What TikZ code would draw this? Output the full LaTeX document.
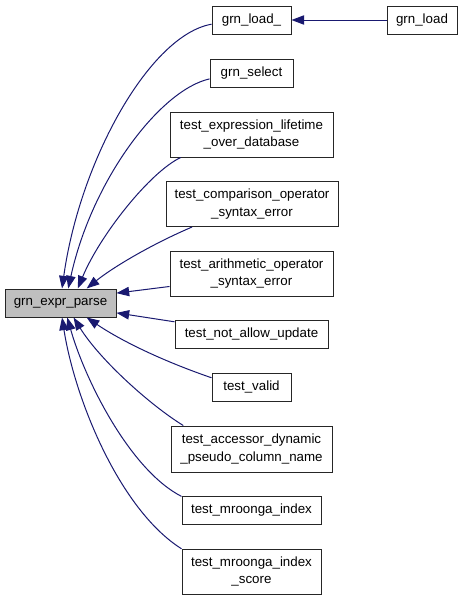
\documentclass[tikz,border=0pt]{standalone}
\usepackage{fontspec}
\setmainfont{Liberation Sans}
\usepackage{xcolor}
\usepackage{tikz}
\usetikzlibrary{calc, positioning, arrows.meta}

\definecolor{edgeblue}{RGB}{25,25,112}
\definecolor{boxgray}{RGB}{191,191,191}

\tikzset{
    fn/.style={draw=black!85, line width=0.75pt, inner sep=0pt, align=center,
        font=\fontsize{10}{13}\selectfont, minimum height=21pt},
    fntwo/.style={fn, minimum height=33.75pt},
    edge/.style={draw=edgeblue, line width=0.75pt, -{Triangle[length=9.5pt,width=7pt]}}
}

\begin{document}
\begin{tikzpicture}[x=0.75pt, y=-0.75pt]
    \useasboundingbox (0,0) rectangle (464,600);
    % Nodes
    \node [fn, fill=boxgray, minimum width=83.25pt] (parse) at (60.5,303) {grn\_expr\_parse};
    \node [fn, minimum width=59.25pt] (load_) at (251.5,20) {grn\_load\_};
    \node [fn, minimum width=52.5pt] (load) at (422,20) {grn\_load};
    \node [fn, minimum width=62.25pt] (select) at (251.5,73) {grn\_select};
    \node [fntwo, minimum width=122.25pt] (expr) at (251.5,134.5) {test\_expression\_lifetime\\\_over\_database};
    \node [fntwo, minimum width=129pt] (comp) at (252,204) {test\_comparison\_operator\\\_syntax\_error};
    \node [fntwo, minimum width=122.25pt] (arith) at (251.5,273.5) {test\_arithmetic\_operator\\\_syntax\_error};
    \node [fn, minimum width=114.75pt] (notallow) at (251.5,334) {test\_not\_allow\_update};
    \node [fn, minimum width=59.25pt] (valid) at (251.5,387) {test\_valid};
    \node [fntwo, minimum width=120.75pt, minimum height=34.5pt] (accessor) at (251.5,449) {test\_accessor\_dynamic\\\_pseudo\_column\_name};
    \node [fn, minimum width=104.25pt] (mroonga) at (251.5,510) {test\_mroonga\_index};
    \node [fntwo, minimum width=104.25pt] (score) at (251.5,571.5) {test\_mroonga\_index\\\_score};

    % Paths
    \draw[edge] (load) -- (load_);
    \draw[edge] (load_.186) .. controls (150,35) and (80,160) .. (parse.84);
    \draw[edge] (select.188) .. controls (160,90) and (92,180) .. (parse.62);
    \draw[edge] (expr.198) .. controls (150,172) and (100,235) .. (parse.40);
    \draw[edge] (comp.201) .. controls (150,245) and (112,268) .. (parse.29);
    \draw[edge] (arith.189) -- (parse.10);
    \draw[edge] (notallow.171) -- (parse.-10);
    \draw[edge] (valid.167) .. controls (160,360) and (120,340) .. (parse.-29);
    \draw[edge] (accessor.161) .. controls (150,405) and (100,360) .. (parse.-48);
    \draw[edge] (mroonga.169) .. controls (130,470) and (85,380) .. (parse.-65);
    \draw[edge] (score.162) .. controls (120,510) and (75,400) .. (parse.-84);
\end{tikzpicture}
\end{document}
